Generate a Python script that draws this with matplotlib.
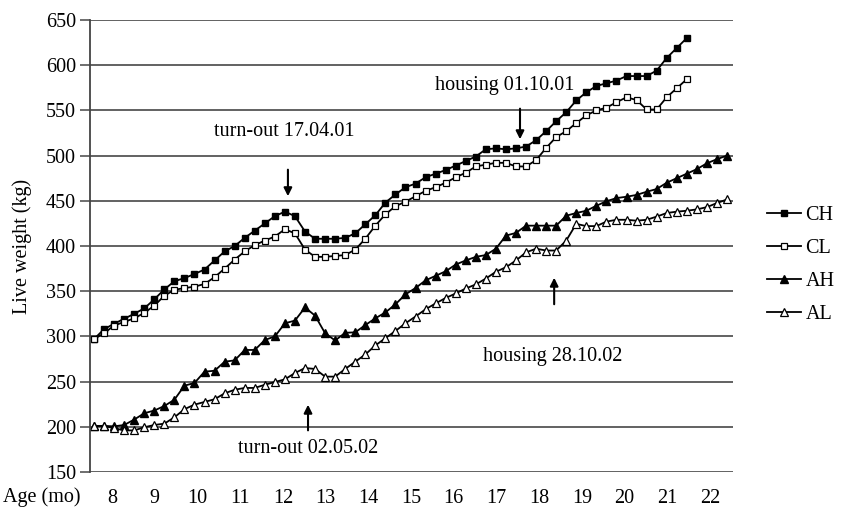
import numpy as np
import matplotlib
matplotlib.use('Agg')
import matplotlib.pyplot as plt

plt.rcParams['font.family'] = 'Liberation Serif'

# weekly live weights (kg), week 0 = first weighing
ch = [297, 308, 314, 319.5, 325, 331, 341, 352, 361, 364.5, 369, 374, 384, 394, 400, 409,
      417, 425, 433, 438, 433, 416, 408, 408, 408, 409, 414, 424, 434, 448, 457, 465,
      469, 476, 480, 484, 489, 494, 499, 507, 508, 507, 508, 510, 517, 527, 538, 548,
      561, 570, 577, 580, 583, 588, 588, 588, 594, 608, 619, 630]
cl = [297, 303.5, 312, 316, 320, 326, 334, 345, 351.5, 353.5, 355, 358, 365.5, 375, 385, 394,
      401, 406, 410.5, 418.5, 414, 396, 388, 388, 389, 390, 396, 408, 422.5, 435, 444, 449,
      455, 461, 465, 470, 476, 481, 488, 490, 492, 492, 488, 488, 495, 508.5, 520.5, 527,
      536, 544.5, 550, 553, 559, 564.5, 561.5, 551, 551, 564.5, 574.5, 584.5]
ah = [201, 201, 200.5, 202, 208, 215, 218, 223, 230, 245.5, 248.5, 261, 262, 272, 273.5, 285,
      285, 296, 300, 314.5, 317.5, 332, 323, 303.5, 295.5, 304, 304.5, 312.5, 320, 326.5, 335.5, 346.5,
      353.5, 362, 367, 372, 379.5, 384, 388, 390, 397, 411.5, 414.5, 422.5, 422.5, 422.5, 422.5, 433.5,
      436.5, 439, 444.5, 449.5, 453, 454.5, 456.5, 460, 463, 470, 475, 480, 485, 491.5, 496, 500]
al = [201, 201, 198.5, 196, 196, 199.5, 202, 203.5, 210.5, 219.5, 224.5, 227.5, 230.5, 237, 241, 243,
      243, 246.5, 249.5, 252.5, 259.5, 265, 264, 255.5, 255.5, 264, 272, 280, 290, 298, 306, 314.5,
      322, 330, 336.5, 342.5, 347.5, 353, 357.5, 364, 371.5, 376.5, 384, 393, 397, 395, 395, 406,
      424.5, 422, 422, 427, 429, 429, 428, 429, 432.5, 436.5, 438, 439, 440.5, 443, 447.5, 451.5]

ages = [8, 9, 10, 11, 12, 13, 14, 15, 16, 17, 18, 19, 20, 21, 22]
age_weeks = [1.8 + (a - 8) * 4.25 for a in ages]

fig = plt.figure(figsize=(8.41, 5.12), dpi=100)
ax = fig.add_axes([90 / 841, 40 / 512, 643 / 841, 452 / 512])

ax.plot(np.arange(len(ch)), ch, '-s', color='black', lw=1.3, ms=4.5, mfc='black', mec='black', label='CH')
ax.plot(np.arange(len(cl)), cl, '-s', color='black', lw=1.3, ms=4.5, mfc='white', mec='black', mew=0.9, label='CL')
ax.plot(np.arange(len(ah)), ah, '-^', color='black', lw=1.3, ms=5.5, mfc='black', mec='black', label='AH')
ax.plot(np.arange(len(al)), al, '-^', color='black', lw=1.3, ms=5.5, mfc='white', mec='black', mew=0.9, label='AL')

ax.set_xlim(-0.4, 63.6)
ax.set_ylim(150, 650)
ax.set_yticks(range(150, 651, 50))
ax.set_xticks(age_weeks)
ax.set_xticklabels([str(a) for a in ages])
ax.tick_params(axis='x', length=0, labelsize=14.5, pad=12)
ax.tick_params(axis='y', length=7, width=1.2, color='#555555', labelsize=14.5, pad=3)
ax.yaxis.grid(True, color='#555555', lw=1.3)
ax.set_axisbelow(True)
for s in ['top', 'right', 'bottom']:
    ax.spines[s].set_visible(False)
ax.spines['left'].set_color('#444444')
ax.spines['left'].set_linewidth(1.3)

fig.text(22 / 841, 0.518, 'Live weight (kg)', rotation=90, ha='center', va='center', fontsize=14.5)
fig.text(3 / 841, 1 - 497 / 512, 'Age (mo)', ha='left', va='center', fontsize=14.5)

arrow = dict(arrowstyle='-|>', color='black', lw=1.5, mutation_scale=12)
ax.annotate('', xy=(19.3, 452), xytext=(19.3, 487.5), arrowprops=arrow)
ax.annotate('', xy=(42.4, 515), xytext=(42.4, 555), arrowprops=arrow)
ax.annotate('', xy=(21.3, 227.5), xytext=(21.3, 193), arrowprops=arrow)
ax.annotate('', xy=(45.8, 368), xytext=(45.8, 332.5), arrowprops=arrow)

ax.text(18.9, 527, 'turn-out 17.04.01', ha='center', va='center', fontsize=14.5)
ax.text(40.9, 578, 'housing 01.10.01', ha='center', va='center', fontsize=14.5)
ax.text(21.3, 175.5, 'turn-out 02.05.02', ha='center', va='center', fontsize=14.5)
ax.text(45.7, 278, 'housing 28.10.02', ha='center', va='center', fontsize=14.5)

fig.legend(loc='center left', bbox_to_anchor=(749 / 841, 1 - 265 / 512),
           frameon=False, fontsize=14.5, handlelength=1.7, handletextpad=0.2, labelspacing=0.7)

fig.savefig('out.png', dpi=100)
